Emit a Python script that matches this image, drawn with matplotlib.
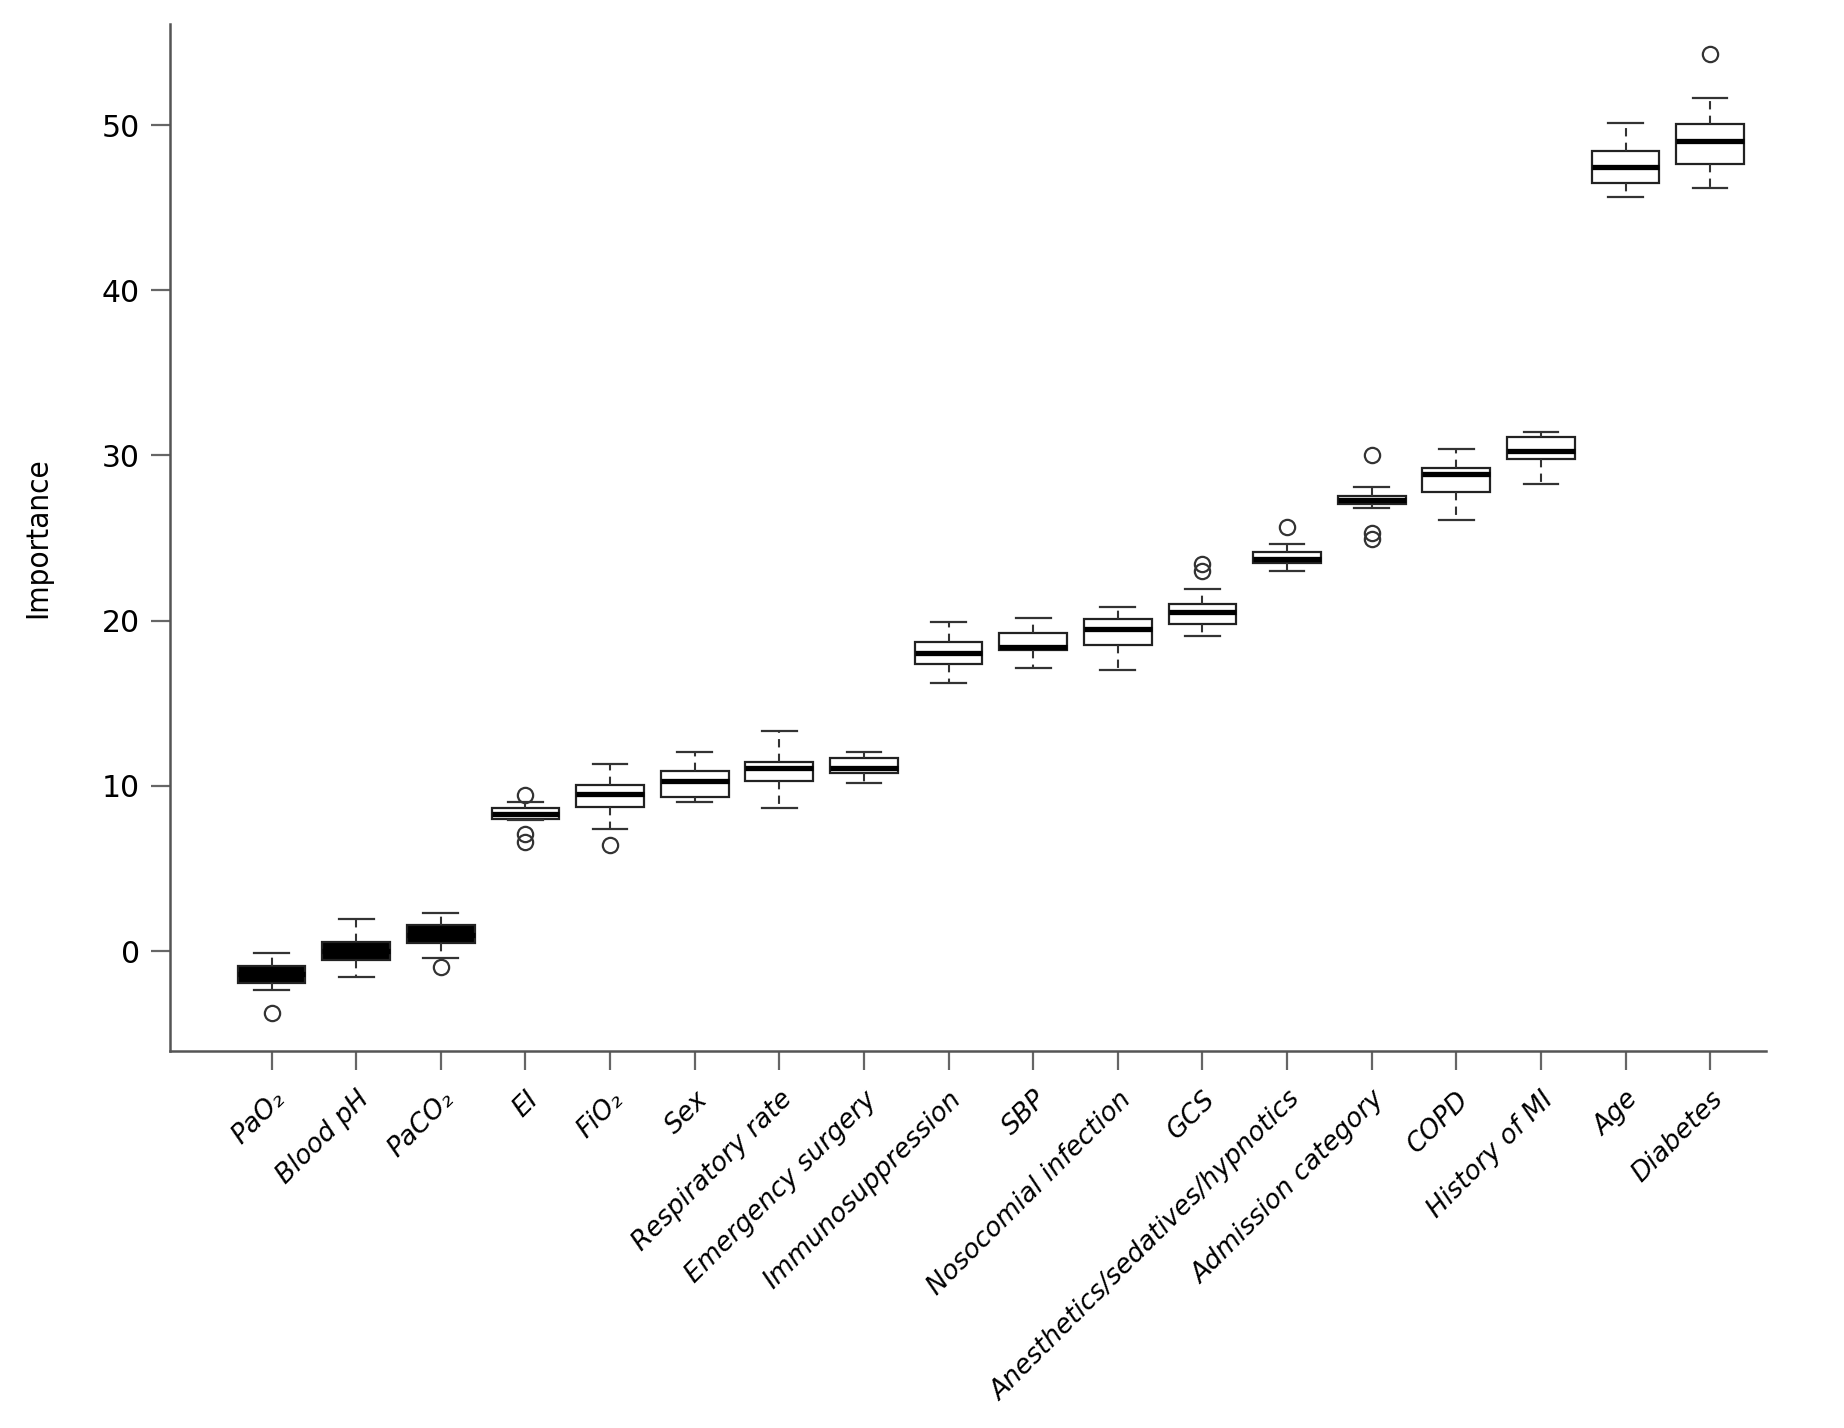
import numpy as np
import matplotlib
matplotlib.use("Agg")
import matplotlib.pyplot as plt

# variable names, ordered by importance
labels = ["PaO₂", "Blood pH", "PaCO₂", "EI", "FiO₂", "Sex", "Respiratory rate",
          "Emergency surgery", "Immunosuppression", "SBP", "Nosocomial infection",
          "GCS", "Anesthetics/sedatives/hypnotics", "Admission category", "COPD",
          "History of MI", "Age", "Diabetes"]

whislo = [-2.36, -1.59, -0.40, 7.95, 7.37, 9.00, 8.68, 10.19, 16.24, 17.15,
          17.01, 19.09, 23.02, 26.83, 26.09, 28.25, 45.66, 46.17]
q1 = [-1.92, -0.54, 0.50, 7.97, 8.74, 9.34, 10.29, 10.79, 17.37, 18.22,
      18.52, 19.78, 23.51, 27.06, 27.77, 29.77, 46.51, 47.64]
med = [-1.40, 0.00, 1.00, 8.29, 9.50, 10.29, 11.10, 11.10, 18.06, 18.42,
       19.49, 20.50, 23.71, 27.30, 28.87, 30.27, 47.44, 49.05]
q3 = [-0.91, 0.56, 1.55, 8.68, 10.07, 10.90, 11.42, 11.70, 18.73, 19.27,
      20.08, 20.99, 24.17, 27.56, 29.22, 31.10, 48.43, 50.06]
whishi = [-0.14, 1.92, 2.28, 9.04, 11.34, 12.07, 13.32, 12.07, 19.90, 20.18,
          20.84, 21.90, 24.62, 28.07, 30.37, 31.44, 50.10, 51.61]
outliers = [[-3.77], [], [-0.95], [9.44, 7.10, 6.60], [6.42], [], [], [], [], [],
            [], [23.45, 23.00], [25.65], [30.02, 25.30, 24.95], [], [], [], [54.30]]

# the three weakest predictors are drawn as solid boxes
n_dark = 3

stats = []
for i, lab in enumerate(labels):
    stats.append(dict(label=lab, whislo=whislo[i], q1=q1[i], med=med[i],
                      q3=q3[i], whishi=whishi[i], fliers=outliers[i]))

fig = plt.figure(figsize=(18.44, 14.28), dpi=100)
ax = fig.add_axes([0.0922, 0.264, 0.8655, 0.719])

pos = np.arange(1, len(labels) + 1)
bp = ax.bxp(stats, positions=pos, widths=0.8, patch_artist=True,
            boxprops=dict(facecolor="white", edgecolor="#222222", linewidth=1.6),
            medianprops=dict(color="black", linewidth=3.8),
            whiskerprops=dict(color="#333333", linewidth=1.5, linestyle=(0, (4, 3))),
            capprops=dict(color="#333333", linewidth=1.6),
            capwidths=0.41,
            flierprops=dict(marker="o", markerfacecolor="none", markeredgecolor="#333333",
                            markersize=11, markeredgewidth=1.6))
for k in range(n_dark):
    bp["boxes"][k].set_facecolor("black")

ax.set_xlim(-0.2, 18.66)
ax.set_ylim(-6.05, 56.1)
ax.set_yticks([0, 10, 20, 30, 40, 50])

for s in ["top", "right"]:
    ax.spines[s].set_visible(False)
for s in ["left", "bottom"]:
    ax.spines[s].set_color("#555555")
    ax.spines[s].set_linewidth(1.8)

ax.tick_params(axis="both", direction="out", length=13.5, width=1.6, color="#666666")
ax.tick_params(axis="y", labelsize=21.5, pad=8)
ax.set_xticks(pos)
ax.set_xticklabels(labels, rotation=45, ha="right", rotation_mode="anchor",
                   fontsize=19, fontstyle="italic")
ax.tick_params(axis="x", pad=12)

ax.set_ylabel("Importance", fontsize=22.5, family="DejaVu Sans", fontstretch="condensed",
              labelpad=36)

fig.savefig("out.png", dpi=100)
